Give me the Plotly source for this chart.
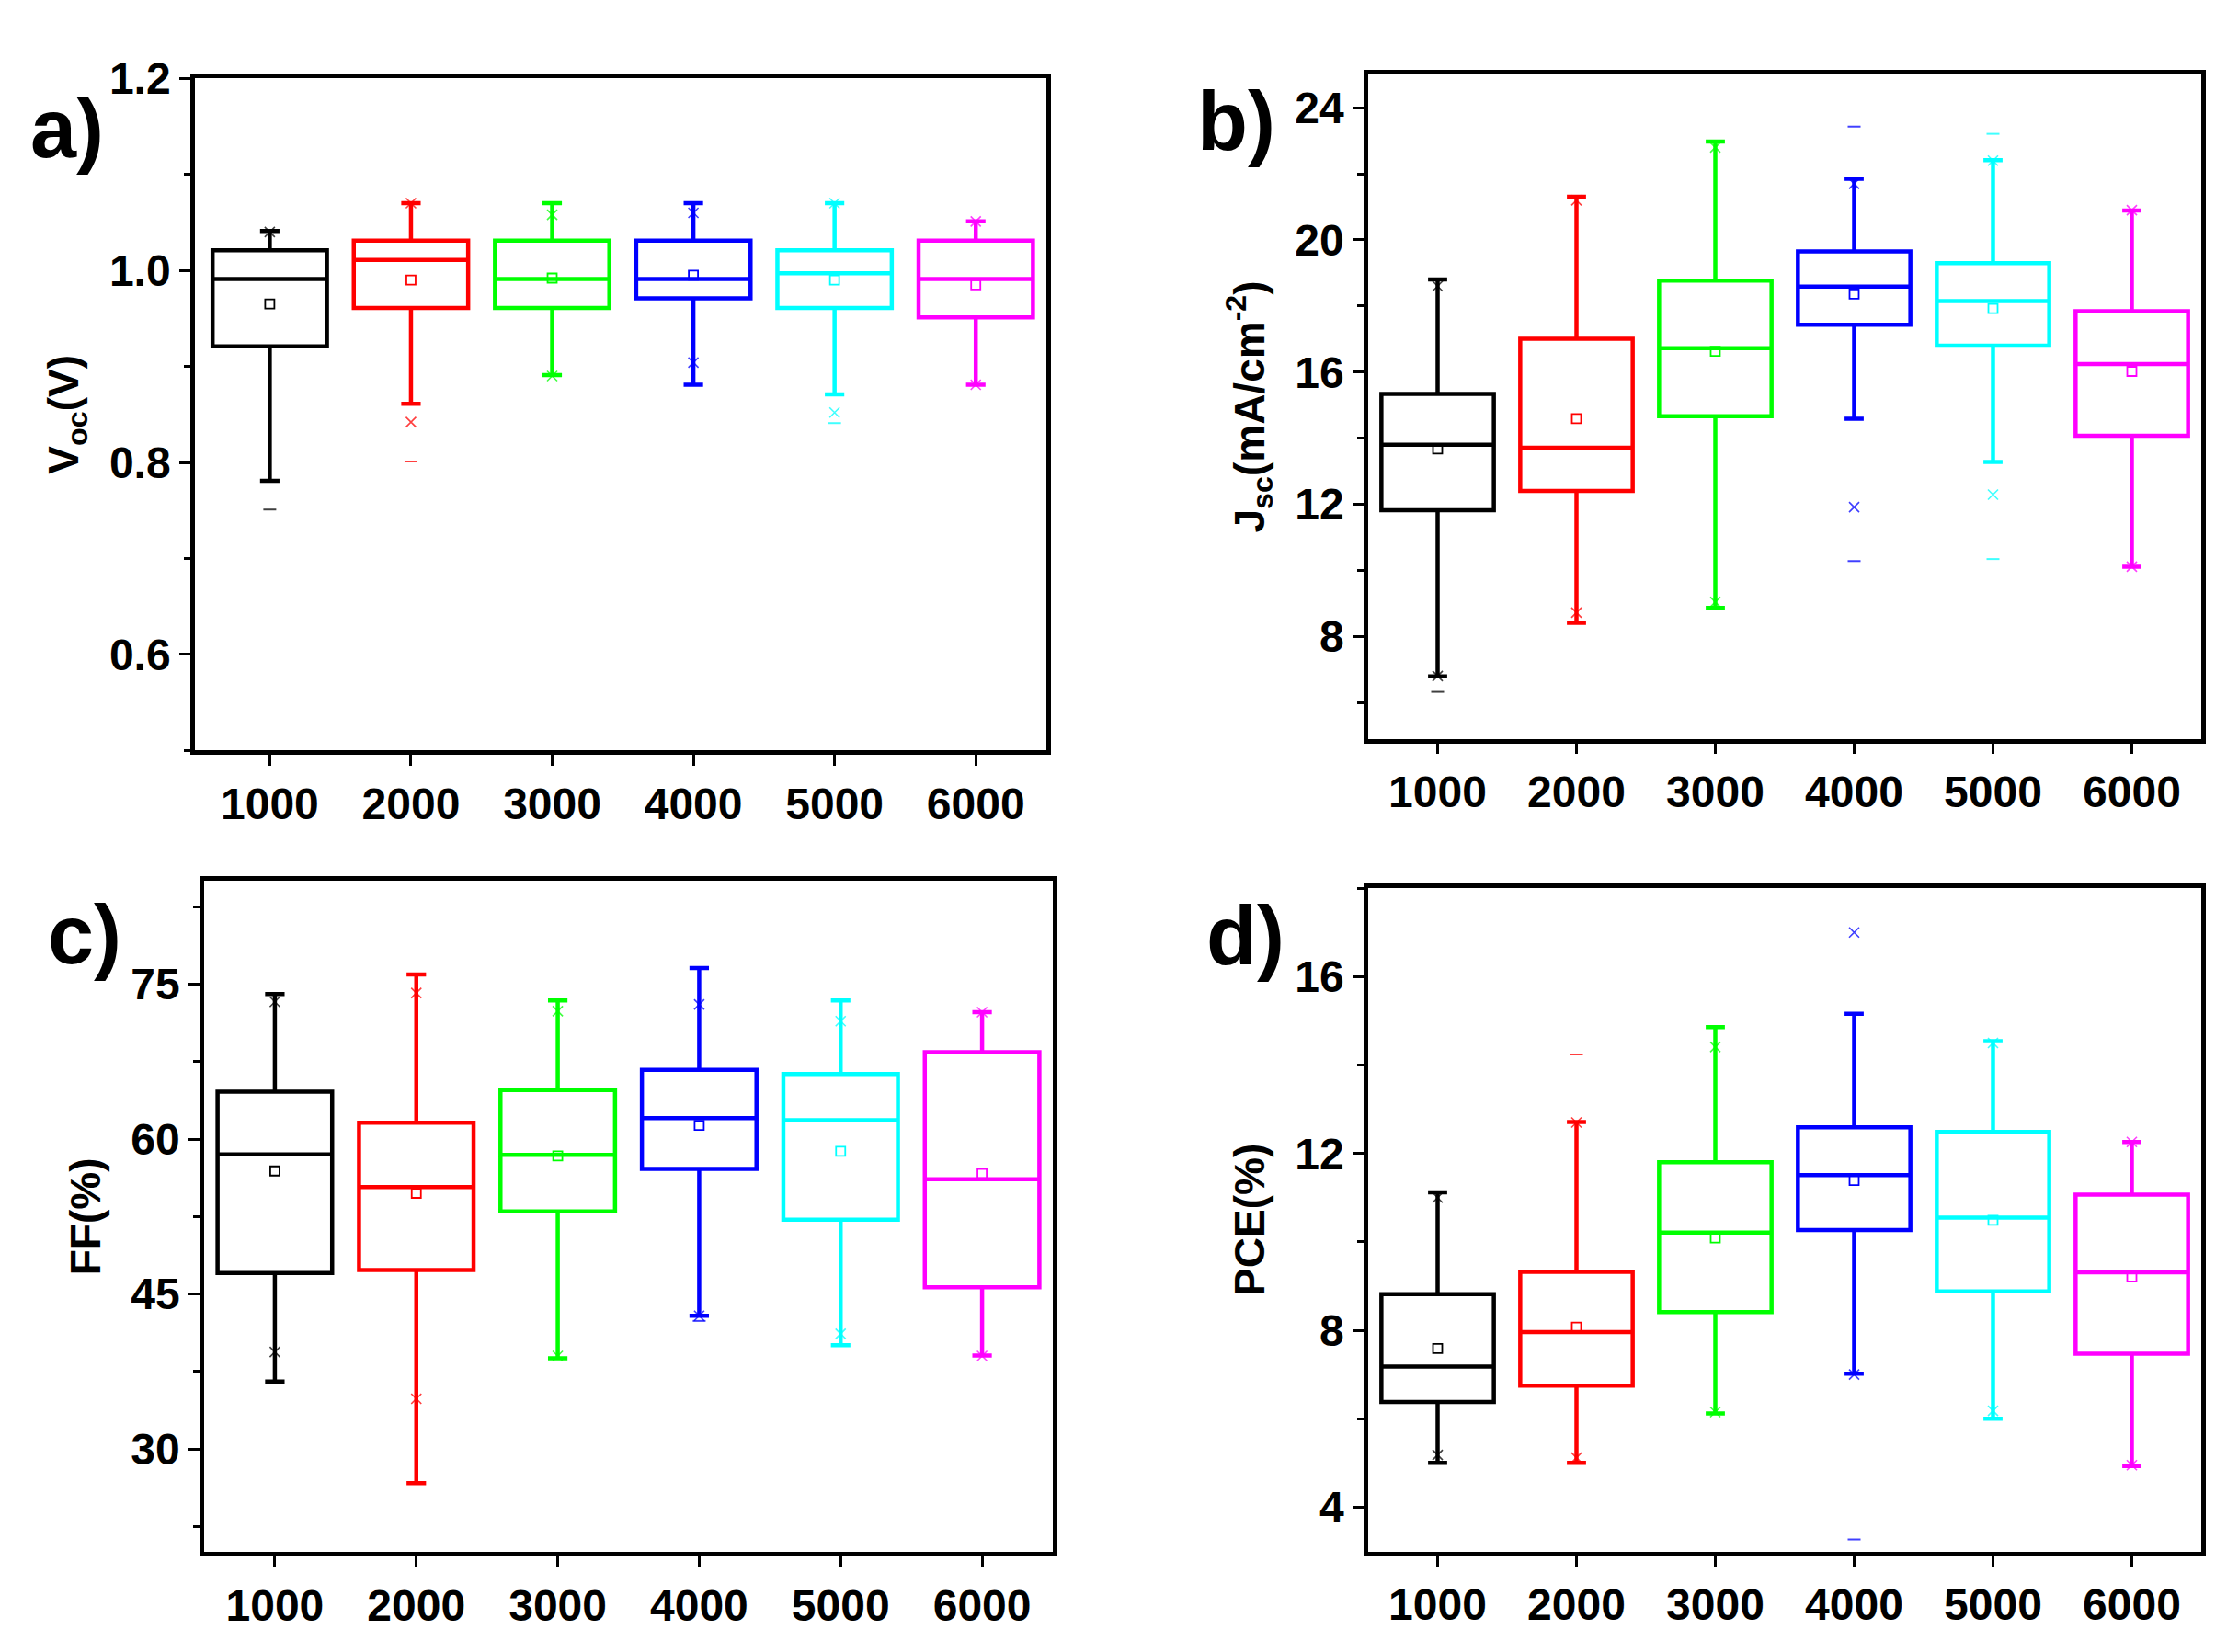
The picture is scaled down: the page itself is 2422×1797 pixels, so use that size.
import plotly.graph_objects as go
from plotly.subplots import make_subplots

categories = ["1000", "2000", "3000", "4000", "5000", "6000"]
colors = ["#000000", "#FF0000", "#00FF00", "#0000FF", "#00FFFF", "#FF00FF"]

# a) Voc
voc_q1 = [0.921, 0.961, 0.961, 0.971, 0.961, 0.951]
voc_med = [0.991, 1.011, 0.991, 0.991, 0.997, 0.991]
voc_q3 = [1.021, 1.031, 1.031, 1.031, 1.021, 1.031]
voc_lo = [0.781, 0.861, 0.891, 0.881, 0.871, 0.881]
voc_hi = [1.041, 1.070, 1.070, 1.070, 1.070, 1.051]
voc_mean = [0.965, 0.990, 0.992, 0.995, 0.990, 0.985]
voc_p1 = [None, 0.842, 0.890, 0.904, 0.852, 0.881]
voc_p99 = [1.040, 1.070, 1.058, 1.060, 1.070, 1.051]
voc_min = [0.751, 0.801, None, None, 0.841, None]
voc_max = [None, None, None, None, None, None]

# b) Jsc
jsc_q1 = [11.82, 12.40, 14.66, 17.43, 16.80, 14.07]
jsc_med = [13.80, 13.71, 16.72, 18.59, 18.15, 16.24]
jsc_q3 = [15.34, 17.01, 18.77, 19.65, 19.30, 17.84]
jsc_lo = [6.79, 8.41, 8.86, 14.59, 13.28, 10.11]
jsc_hi = [18.80, 21.31, 22.98, 21.85, 22.41, 20.89]
jsc_mean = [13.67, 14.59, 16.63, 18.36, 17.92, 16.02]
jsc_p1 = [6.80, 8.72, 9.04, 11.91, 12.29, 10.11]
jsc_p99 = [18.60, 21.20, 22.80, 21.70, 22.40, 20.90]
jsc_min = [6.32, None, None, 10.28, 10.34, None]
jsc_max = [None, None, None, 23.43, 23.21, None]

# c) FF
ff_q1 = [47.03, 47.33, 53.00, 57.12, 52.20, 45.67]
ff_med = [58.53, 55.36, 58.48, 62.04, 61.84, 56.12]
ff_q3 = [64.60, 61.59, 64.76, 66.71, 66.31, 68.42]
ff_lo = [36.53, 26.69, 38.79, 42.91, 40.05, 39.04]
ff_hi = [74.05, 75.95, 73.44, 76.56, 73.44, 72.29]
ff_mean = [56.92, 54.76, 58.38, 61.34, 58.83, 56.67]
ff_p1 = [39.39, 34.87, 39.00, 42.90, 41.15, 39.00]
ff_p99 = [73.30, 74.15, 72.40, 73.04, 71.43, 72.30]
ff_min = [None, None, None, 42.40, None, None]
ff_max = [None, None, None, None, None, None]

# d) PCE
pce_q1 = [6.38, 6.75, 8.41, 10.27, 8.88, 7.47]
pce_med = [7.18, 7.96, 10.21, 11.51, 10.55, 9.31]
pce_q3 = [8.82, 9.32, 11.80, 12.59, 12.49, 11.07]
pce_lo = [5.00, 5.00, 6.12, 7.02, 6.00, 4.93]
pce_hi = [11.12, 12.71, 14.86, 15.16, 14.54, 12.26]
pce_mean = [7.59, 8.07, 10.09, 11.39, 10.49, 9.21]
pce_p1 = [5.18, 5.12, 6.15, 7.00, 6.18, 4.95]
pce_p99 = [11.00, 12.70, 14.41, 17.00, 14.50, 12.26]
pce_min = [None, None, None, 3.27, None, None]
pce_max = [None, 14.24, None, None, None, None]

panels = [
    (1, 1, voc_q1, voc_med, voc_q3, voc_lo, voc_hi, voc_mean, voc_p1, voc_p99, voc_min, voc_max),
    (1, 2, jsc_q1, jsc_med, jsc_q3, jsc_lo, jsc_hi, jsc_mean, jsc_p1, jsc_p99, jsc_min, jsc_max),
    (2, 1, ff_q1, ff_med, ff_q3, ff_lo, ff_hi, ff_mean, ff_p1, ff_p99, ff_min, ff_max),
    (2, 2, pce_q1, pce_med, pce_q3, pce_lo, pce_hi, pce_mean, pce_p1, pce_p99, pce_min, pce_max),
]

fig = make_subplots(rows=2, cols=2)
xpos = list(range(1, len(categories) + 1))

for row, col, q1, med, q3, lo, hi, mean, p1, p99, vmin, vmax in panels:
    for i, c in enumerate(colors):
        fig.add_trace(go.Box(
            x=[xpos[i]], q1=[q1[i]], median=[med[i]], q3=[q3[i]],
            lowerfence=[lo[i]], upperfence=[hi[i]],
            width=0.81, whiskerwidth=0.17, boxpoints=False,
            line=dict(color=c, width=4.5), fillcolor="rgba(0,0,0,0)",
            showlegend=False), row=row, col=col)
        fig.add_trace(go.Scatter(
            x=[xpos[i]], y=[mean[i]], mode="markers",
            marker=dict(symbol="square-open", size=10, color=c, line=dict(width=1.8)),
            showlegend=False), row=row, col=col)
        xs = [xpos[i] for v in (p1[i], p99[i]) if v is not None]
        ys = [v for v in (p1[i], p99[i]) if v is not None]
        fig.add_trace(go.Scatter(
            x=xs, y=ys, mode="markers",
            marker=dict(symbol="x-thin-open", size=11, color=c, line=dict(width=1.6, color=c)),
            opacity=0.75, showlegend=False), row=row, col=col)
        xs = [xpos[i] for v in (vmin[i], vmax[i]) if v is not None]
        ys = [v for v in (vmin[i], vmax[i]) if v is not None]
        fig.add_trace(go.Scatter(
            x=xs, y=ys, mode="markers",
            marker=dict(symbol="line-ew-open", size=10, color=c, line=dict(width=2, color=c)),
            opacity=0.75, showlegend=False), row=row, col=col)

# the page body keeps its default 8px margin, so the figure is drawn 8px in
OFF = 8
W, H = 2422 - 2 * OFF, 1797 - 2 * OFF
font = "Liberation Sans, Arial, sans-serif"
tickfont = dict(family=font, size=48, color="black", weight="bold")

# pixel boxes of the four plot areas in the reference: left, right, top, bottom
boxes = {(1, 1): (212, 1138, 60, 802), (1, 2): (1488, 2394, 56, 789),
         (2, 1): (222, 1145, 946, 1687), (2, 2): (1488, 2394, 954, 1686)}
xranges = {(1, 1): [0.47, 6.5], (1, 2): [0.5, 6.5], (2, 1): [0.5, 6.5], (2, 2): [0.5, 6.5]}
yaxes = {
    (1, 1): dict(range=[0.5, 1.2], dtick=0.2, tick0=0, minor=0.1, fmt=".1f", title="V<sub>oc</sub>(V)"),
    (1, 2): dict(range=[4.9, 25], dtick=4, tick0=0, minor=2, fmt="d", title="J<sub>sc</sub>(mA/cm<sup>-2</sup>)"),
    (2, 1): dict(range=[20, 85], dtick=15, tick0=0, minor=7.5, fmt="d", title="FF(%)"),
    (2, 2): dict(range=[3, 18], dtick=4, tick0=0, minor=2, fmt="d", title="PCE(%)"),
}

for (row, col), (l, r, t, b) in boxes.items():
    fig.update_xaxes(
        domain=[(l - OFF) / W, (r - OFF) / W], range=xranges[(row, col)],
        tickvals=xpos, ticktext=categories, tickfont=tickfont,
        showline=True, mirror=True, linecolor="black", linewidth=4.5,
        ticks="outside", ticklen=12, tickwidth=3, tickcolor="black",
        showgrid=False, zeroline=False, row=row, col=col)
    ya = yaxes[(row, col)]
    fig.update_yaxes(
        domain=[1 - (b - OFF) / H, 1 - (t - OFF) / H], range=ya["range"],
        dtick=ya["dtick"], tick0=ya["tick0"], tickformat=ya["fmt"], tickfont=tickfont,
        minor=dict(dtick=ya["minor"], tick0=0, ticks="outside", ticklen=7, tickwidth=3, tickcolor="black"),
        showline=True, mirror=True, linecolor="black", linewidth=4.5,
        ticks="outside", ticklen=12, tickwidth=3, tickcolor="black",
        showgrid=False, zeroline=False,
        title=dict(text=ya["title"], standoff=20,
                   font=dict(family=font, size=46, color="black", weight="bold")),
        row=row, col=col)

letters = [("a)", 31, 116), ("b)", 1300, 107), ("c)", 50, 1006), ("d)", 1310, 1007)]
for txt, px, py in letters:
    fig.add_annotation(text=txt, x=(px - OFF) / W, y=1 - (py - OFF) / H, xref="paper", yref="paper",
                       xanchor="left", yanchor="middle", showarrow=False,
                       font=dict(family="Liberation Sans Narrow, Liberation Sans, Arial", size=90,
                                 color="black", weight="bold"))

fig.update_layout(width=W, height=H, margin=dict(l=0, r=0, t=0, b=0),
                  plot_bgcolor="white", paper_bgcolor="white", boxmode="overlay")

fig.write_html("out.html")
